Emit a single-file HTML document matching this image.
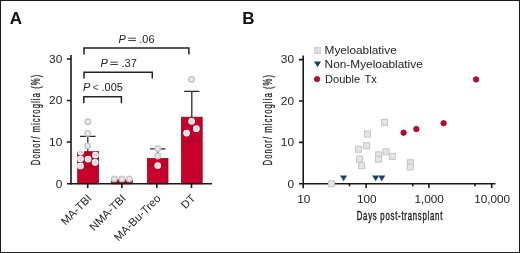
<!DOCTYPE html>
<html><head><meta charset="utf-8">
<style>
html,body{margin:0;padding:0;background:#fff;}
body{width:520px;height:253px;overflow:hidden;}
svg{display:block;font-family:"Liberation Sans",sans-serif;will-change:transform;}
</style></head>
<body>
<svg width="520" height="253" viewBox="0 0 520 253">
<rect x="0" y="0" width="520" height="253" fill="#fff"/>
<rect x="0.5" y="0.5" width="519" height="252" fill="none" stroke="#1c1c1c" stroke-width="1"/>

<!-- Panel letters -->
<text x="9.8" y="24.1" font-size="17" font-weight="bold" fill="#111">A</text>
<text x="242.3" y="24.1" font-size="17" font-weight="bold" fill="#111">B</text>

<!-- ===== Panel A ===== -->
<!-- y axis title -->
<text transform="translate(40,165.2) rotate(-90) scale(0.62,1)" font-size="12.5" letter-spacing="1.7" stroke="#222" stroke-width="0.3" fill="#222">Donor/ microglia (%)</text>

<!-- tick labels -->
<g font-size="11" fill="#222" text-anchor="end">
<text transform="translate(62.3,62.85) scale(1.08,1)">30</text>
<text transform="translate(62.3,104.4) scale(1.08,1)">20</text>
<text transform="translate(62.3,146) scale(1.08,1)">10</text>
<text transform="translate(62.3,187.5) scale(1.08,1)">0</text>
</g>

<!-- bars -->
<g fill="#c8002a" stroke="#8c0a1e" stroke-width="0.8">
<rect x="77.7" y="151.7" width="20.9" height="32.1"/>
<rect x="111.3" y="179.8" width="21" height="4" fill="#a8001f"/>
<rect x="147.5" y="158.5" width="20.5" height="25.3"/>
<rect x="181.4" y="117.2" width="20.8" height="66.6"/>
</g>

<!-- lower error bars (inside bars) -->
<g stroke="#8e0a22" stroke-width="1.1" fill="none">
<path d="M87.8 151.4V166.4M80 166.4H95.6"/>
<path d="M157.7 158.2V165.2M150.5 165.2H165"/>
<path d="M191.8 117.2V140.7M184.1 140.7H199.5"/>
</g>

<!-- upper error bars -->
<g stroke="#2a2a2a" stroke-width="1.3" fill="none">
<path d="M87.8 136.4V151.4M80 136.4H95.6"/>
<path d="M157.7 148.9V158.2M150 148.9H165.4"/>
<path d="M191.8 91.4V117.2M184.1 91.4H199.5"/>
</g>

<!-- dots -->
<g fill="#ececec" stroke="#c6c6c6" stroke-width="1.5">
<circle cx="87.9" cy="121.8" r="2.7"/>
<circle cx="87.7" cy="133.4" r="2.7"/>
<circle cx="87.6" cy="145.9" r="2.7"/>
<circle cx="114.3" cy="178.9" r="2.7"/>
<circle cx="122" cy="178.9" r="2.7"/>
<circle cx="129.2" cy="178.9" r="2.7"/>
<circle cx="157.8" cy="148.6" r="2.7"/>
<circle cx="157.8" cy="156" r="2.7"/>
<circle cx="191.5" cy="79.4" r="2.7"/>
</g>
<g fill="#dcdcdc" stroke="#fff" stroke-width="1.1">
<circle cx="80.8" cy="151.8" r="2.8"/>
<circle cx="95.4" cy="155" r="2.8"/>
<circle cx="80.5" cy="158.8" r="2.8"/>
<circle cx="88.1" cy="159.1" r="2.8"/>
<circle cx="95.1" cy="162.3" r="2.8"/>
<circle cx="80.5" cy="165.9" r="2.8"/>
<circle cx="157.7" cy="165.5" r="2.8"/>
<circle cx="191.6" cy="121.3" r="2.8"/>
<circle cx="196.4" cy="128.7" r="2.8"/>
<circle cx="186.6" cy="133.1" r="2.8"/>
</g>

<!-- axes A -->
<g stroke="#1a1a1a" stroke-width="1.6" fill="none">
<path d="M71 55V184.6"/>
<path d="M67 183.8H212"/>
<path d="M66.8 58.95H71M66.8 100.5H71M66.8 142.05H71"/>
<path d="M87.7 183.8V188M121.9 183.8V188M156.8 183.8V188M191.5 183.8V188"/>
</g>

<!-- brackets -->
<g stroke="#222" stroke-width="1.5" fill="none">
<path d="M84 54.5V48H188.9V54.5"/>
<path d="M84 78.5V72.2H152.3V78.5"/>
<path d="M83.8 103.2V96.7H121.4V103.2"/>
</g>

<!-- p values -->
<g font-size="10" fill="#222">
<text transform="translate(118.6,42.7) scale(1.1,1)" font-style="italic">P</text>
<path d="M128.3 38.2H135.9M128.3 40.5H135.9" stroke="#2a2a2a" stroke-width="0.9"/>
<text transform="translate(139.3,42.7) scale(1.1,1)">.06</text>
<text transform="translate(100.6,66.7) scale(1.1,1)" font-style="italic">P</text>
<path d="M110.3 62.2H117.9M110.3 64.5H117.9" stroke="#2a2a2a" stroke-width="0.9"/>
<text transform="translate(121.5,66.7) scale(1.1,1)">.37</text>
<text transform="translate(83.0,90.7) scale(1.1,1)" font-style="italic">P</text>
<text transform="translate(92.7,90.7) scale(1.0,1)" font-size="10" fill="#444">&lt;</text>
<text transform="translate(101.5,90.7) scale(1.1,1)">.005</text>
</g>

<!-- x labels A -->
<g font-size="11.2" fill="#222" text-anchor="end">
<text transform="translate(92.3,199) rotate(-45)">MA-TBI</text>
<text transform="translate(126.5,199) rotate(-45)">NMA-TBI</text>
<text transform="translate(161.4,199) rotate(-45)">MA-Bu-Treo</text>
<text transform="translate(196.1,199) rotate(-45)">DT</text>
</g>

<!-- ===== Panel B ===== -->
<text transform="translate(272.3,165.4) rotate(-90) scale(0.62,1)" font-size="12.5" letter-spacing="1.7" stroke="#222" stroke-width="0.3" fill="#222">Donor/ microglia (%)</text>

<g font-size="11" fill="#222" text-anchor="end">
<text transform="translate(294,63.3) scale(1.08,1)">30</text>
<text transform="translate(294,104.9) scale(1.08,1)">20</text>
<text transform="translate(294,146.3) scale(1.08,1)">10</text>
<text transform="translate(294,187.7) scale(1.08,1)">0</text>
</g>
<g font-size="11" fill="#222" text-anchor="middle">
<text transform="translate(303.8,203.2) scale(1.08,1)">10</text>
<text transform="translate(366.8,203.2) scale(1.07,1)">100</text>
<text transform="translate(429.1,203.2) scale(1.07,1)">1,000</text>
<text transform="translate(492.1,203.2) scale(1.07,1)">10,000</text>
</g>
<text transform="translate(356.7,220.2) scale(0.62,1)" font-size="12.5" letter-spacing="1.25" stroke="#1a1a1a" stroke-width="0.42" fill="#222">Days post-transplant</text>

<!-- legend -->
<rect x="314.5" y="47.4" width="6.2" height="6.2" fill="#dcdce2" stroke="#cacad2" stroke-width="0.8"/>
<path d="M314 61.6H321L317.5 67.3Z" fill="#1c3f74"/>
<circle cx="317.1" cy="79.1" r="2.7" fill="#c4062a" stroke="#8e0020" stroke-width="0.7"/>
<g font-size="11.6" fill="#222" lengthAdjust="spacingAndGlyphs">
<text x="324.6" y="53.8" textLength="72.1" lengthAdjust="spacingAndGlyphs">Myeloablative</text>
<text x="324.6" y="68.2" textLength="98.2" lengthAdjust="spacingAndGlyphs">Non-Myeloablative</text>
<text x="325" y="82.5" textLength="51.8" lengthAdjust="spacingAndGlyphs" word-spacing="1.5">Double Tx</text>
</g>

<!-- axes B -->
<g stroke="#1a1a1a" stroke-width="1.6" fill="none">
<path d="M303.2 55.5V188.2"/>
<path d="M299 183.8H495.5"/>
<path d="M299 59.6H303.2M299 101H303.2M299 142.4H303.2"/>
<path d="M366.1 183.8V188M428.9 183.8V188M491.7 183.8V188"/>
<path d="M349.5 183.8V186.3M412.7 183.8V186.3M475 183.8V186.3"/>
</g>

<!-- scatter squares -->
<g fill="#e4e4e4" stroke="#c6c6c6" stroke-width="1">
<rect x="381.5" y="119.4" width="6" height="6"/>
<rect x="364.5" y="131.0" width="6" height="6"/>
<rect x="363.6" y="142.7" width="6" height="6"/>
<rect x="355.6" y="146.3" width="6" height="6"/>
<rect x="356.5" y="156.0" width="6" height="6"/>
<rect x="358.6" y="162.7" width="6" height="6"/>
<rect x="375.7" y="151.9" width="6" height="6"/>
<rect x="375.5" y="156.3" width="6" height="6"/>
<rect x="383.1" y="148.8" width="6" height="6"/>
<rect x="389.3" y="153.4" width="6" height="6"/>
<rect x="407.4" y="159.7" width="6" height="6"/>
<rect x="407.2" y="164.0" width="6" height="6"/>
<rect x="328.4" y="180.7" width="6" height="6"/>
</g>

<!-- triangles -->
<g fill="#1c3f74">
<path d="M340.1 175.4H347.1L343.6 181.3Z"/>
<path d="M372.2 175.4H379.2L375.7 181.3Z"/>
<path d="M378.3 175.4H385.3L381.8 181.3Z"/>
</g>

<!-- red dots -->
<g fill="#c4062a" stroke="#8e0020" stroke-width="0.7">
<circle cx="403.6" cy="132.7" r="2.75"/>
<circle cx="416.4" cy="129.1" r="2.75"/>
<circle cx="443.6" cy="123.2" r="2.75"/>
<circle cx="476.1" cy="79.4" r="2.75"/>
</g>
</svg>
</body></html>
